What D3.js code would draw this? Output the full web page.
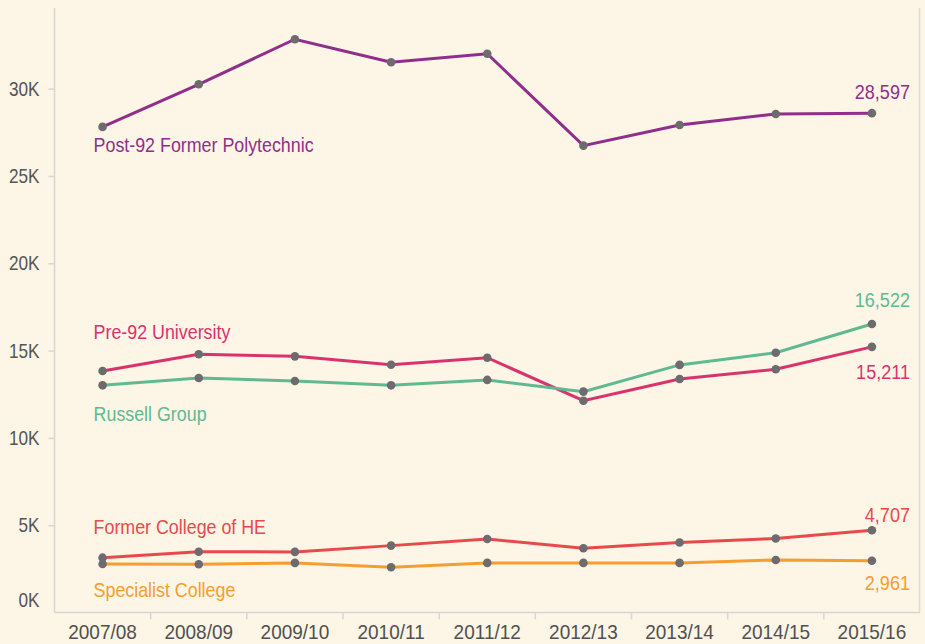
<!DOCTYPE html>
<html>
<head>
<meta charset="utf-8">
<script src="https://cdn.jsdelivr.net/npm/d3@7"></script>
<style>
  body { margin: 0; background: #fdf5e5; }
  svg { display: block; }
  text { font-family: "Liberation Sans", Arial, sans-serif; }
</style>
</head>
<body>
<svg width="925" height="644"></svg>
<script>
// academic years along the x axis
var years = ["2007/08","2008/09","2009/10","2010/11","2011/12","2012/13","2013/14","2014/15","2015/16"]

// one array per institution group
var post92     = [27810, 30250, 32830, 31510, 32000, 26740, 27920, 28550, 28597]
var pre92      = [13830, 14790, 14670, 14190, 14590, 12130, 13370, 13930, 15211]
var russell    = [13010, 13430, 13260, 13010, 13320, 12650, 14180, 14880, 16522]
var formerHE   = [3140, 3480, 3470, 3830, 4210, 3680, 4010, 4240, 4707]
var specialist = [2780, 2760, 2840, 2590, 2840, 2840, 2840, 3010, 2961]

var yTicks = [0, 5000, 10000, 15000, 20000, 25000, 30000]

var series = [
  {name: "Post-92 Former Polytechnic", values: post92, color: "#8f2f8b", labelDy: 10, endDy: -22},
  {name: "Pre-92 University", values: pre92, color: "#d8336e", labelDy: -47, endDy: 25},
  {name: "Russell Group", values: russell, color: "#5fba91", labelDy: 21, endDy: -24},
  {name: "Former College of HE", values: formerHE, color: "#e84a4b", labelDy: -39, endDy: -16},
  {name: "Specialist College", values: specialist, color: "#f59e2f", labelDy: 18, endDy: 22}
]

var svg = d3.select("svg")
var mLeft = 54.5, mRight = 920, mTop = 8, mBottom = 612.5

var x = d3.scaleBand().domain(years).range([mLeft, mRight])
var y = d3.scaleLinear().domain([0, 34620]).range([mBottom, mTop])

// squeeze text horizontally, the original font is a condensed one
function condense(sel, s) {
  sel.each(function(){
    var t = d3.select(this)
    var x0 = +t.attr("x") || 0
    t.attr("x", x0 / s).attr("transform", `scale(${s},1)`)
  })
}

// right pane border
svg.append("line")
  .attr("x1", mRight - 0.5).attr("x2", mRight - 0.5)
  .attr("y1", mTop).attr("y2", mBottom)
  .attr("stroke", "#dcdcdc").attr("stroke-width", 1.5)

// y axis
var yAxis = svg.append("g")
  .attr("transform", `translate(${mLeft},0)`)
  .call(d3.axisLeft(y).tickValues(yTicks).tickSize(6).tickPadding(9)
    .tickFormat(function(d){ return d/1000 + "K" }))
yAxis.select(".domain").attr("stroke", "#d6d6d6").attr("stroke-width", 1.5)
  .attr("d", `M0,${mTop}V${mBottom}`)
yAxis.selectAll(".tick line").attr("stroke", "#d6d6d6").attr("stroke-width", 1.5)
yAxis.selectAll(".tick text")
  .attr("fill", "#555").attr("font-size", 20)
  .attr("font-family", "Liberation Sans")
  .call(condense, 0.86)
// the 0K label sits above the baseline, no tick there
yAxis.selectAll(".tick").filter(function(d){ return d === 0 })
  .each(function(){
    d3.select(this).select("line").remove()
    d3.select(this).select("text").attr("y", -12)
  })

// x axis with ticks between the bands
var xg = svg.append("g").attr("transform", `translate(0,${mBottom})`)
xg.append("line").attr("x1", mLeft).attr("x2", mRight)
  .attr("stroke", "#d6d6d6").attr("stroke-width", 1.5)
xg.selectAll("line.sep")
  .data(years.slice(1))
  .enter().append("line")
    .attr("class", "sep")
    .attr("x1", function(d){ return x(d) }).attr("x2", function(d){ return x(d) })
    .attr("y1", 0).attr("y2", 7)
    .attr("stroke", "#d6d6d6").attr("stroke-width", 1.5)
xg.selectAll("text")
  .data(years)
  .enter().append("text")
    .attr("x", function(d){ return x(d) + x.bandwidth()/2 })
    .attr("y", 27)
    .attr("text-anchor", "middle")
    .attr("fill", "#505050").attr("font-size", 20)
    .text(function(d){ return d })
    .call(condense, 0.95)

var cx = function(i){ return x(years[i]) + x.bandwidth()/2 }
var line = d3.line()
  .x(function(d, i){ return cx(i) })
  .y(function(d){ return y(d) })

var g = svg.selectAll("g.series")
  .data(series)
  .enter()
  .append("g")
    .attr("class", "series")

g.append("path")
  .attr("d", function(d){ return line(d.values) })
  .attr("fill", "none")
  .attr("stroke", function(d){ return d.color })
  .attr("stroke-width", 3)

g.selectAll("circle")
  .data(function(d){ return d.values })
  .enter().append("circle")
    .attr("cx", function(d, i){ return cx(i) })
    .attr("cy", function(d){ return y(d) })
    .attr("r", 4.3)
    .attr("fill", "#6e6b6e")

// name label near the first point
g.append("text")
  .attr("x", cx(0) - 9)
  .attr("y", function(d){ return y(d.values[0]) + d.labelDy })
  .attr("dy", "0.71em")
  .attr("fill", function(d){ return d.color })
  .attr("font-size", 21)
  .text(function(d){ return d.name })
  .call(condense, 0.85)

// value label at the last point
g.append("text")
  .attr("x", mRight - 10)
  .attr("y", function(d){ return y(d.values[8]) + d.endDy })
  .attr("dy", "0.35em")
  .attr("text-anchor", "end")
  .attr("fill", function(d){ return d.color })
  .attr("font-size", 21)
  .text(function(d){ return d3.format(",")(d.values[8]) })
  .call(condense, 0.86)
</script>
</body>
</html>
